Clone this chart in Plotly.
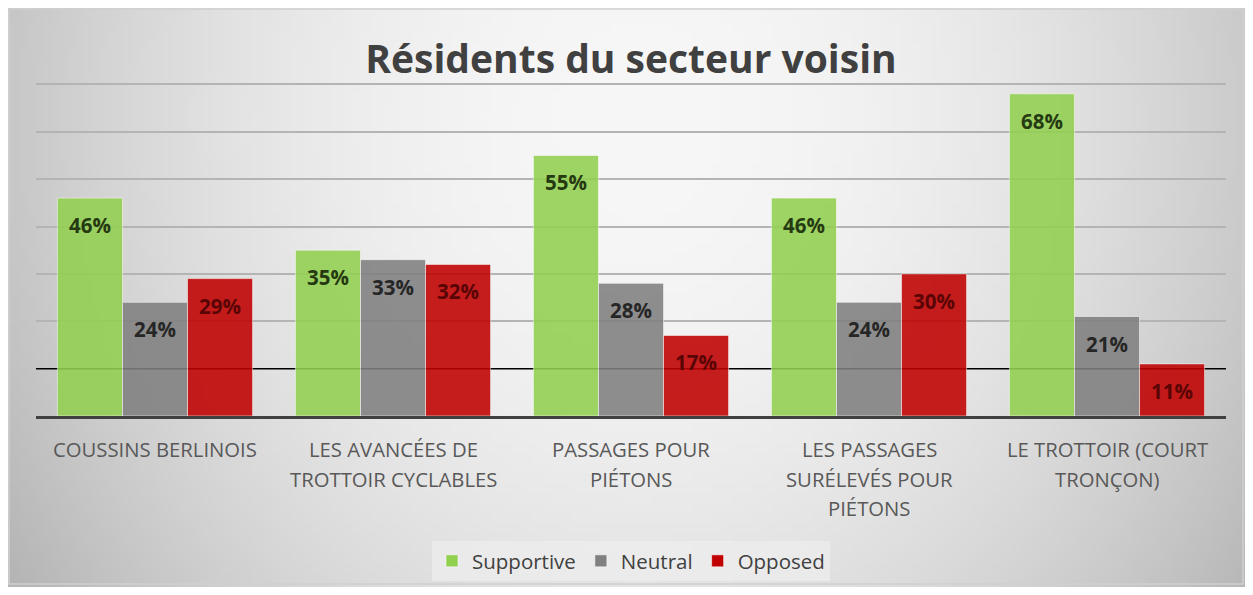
import base64, struct, zlib
import plotly.graph_objects as go

categories = ["COUSSINS BERLINOIS", "LES AVANCÉES DE TROTTOIR CYCLABLES",
              "PASSAGES POUR PIÉTONS", "LES PASSAGES SURÉLEVÉS POUR PIÉTONS",
              "LE TROTTOIR (COURT TRONÇON)"]
category_lines = [["COUSSINS BERLINOIS"],
                  ["LES AVANCÉES DE", "TROTTOIR CYCLABLES"],
                  ["PASSAGES POUR", "PIÉTONS"],
                  ["LES PASSAGES", "SURÉLEVÉS POUR", "PIÉTONS"],
                  ["LE TROTTOIR (COURT", "TRONÇON)"]]
series_names = ["Supportive", "Neutral", "Opposed"]
supportive = [46, 35, 55, 46, 68]
neutral = [24, 33, 28, 24, 21]
opposed = [29, 32, 17, 30, 11]
series_values = [supportive, neutral, opposed]
bar_colors = ["#92D050", "#808080", "#C00000"]
label_colors = ["#263a12", "#262626", "#5a0505"]
y_ticks = [0, 10, 20, 30, 40, 50, 60, 70, 80]
reference_line = 10  # drawn in black instead of a grey gridline

# page body has an 8px margin: figure occupies (8,8)-(1245,587)
W, H = 1237, 579
ML, MR, MT, MB = 28, 19, 29, 171
plot_w = W - ML - MR
plot_h = H - MT - MB
BARGAP = 0.18


def gradient_png(w, h):
    rows = []
    for j in range(h):
        py = 8 + (j + 0.5) / h * H
        row = bytearray([0])
        for i in range(w):
            px = 8 + (i + 0.5) / w * W
            dx = (px - 640) / 620.0
            dy = (py - 120) / 720.0
            d2 = dx * dx + dy * dy
            v = int(max(0, min(255, 247 - 46 * d2)))
            row += bytes([v, v, v])
        rows.append(bytes(row))
    raw = b"".join(rows)

    def chunk(t, data):
        c = struct.pack(">I", len(data)) + t + data
        return c + struct.pack(">I", zlib.crc32(t + data) & 0xffffffff)

    png = b"\x89PNG\r\n\x1a\n"
    png += chunk(b"IHDR", struct.pack(">IIBBBBB", w, h, 8, 2, 0, 0, 0))
    png += chunk(b"IDAT", zlib.compress(raw, 9))
    png += chunk(b"IEND", b"")
    return "data:image/png;base64," + base64.b64encode(png).decode()


fig = go.Figure()
for name, vals, col in zip(series_names, series_values, bar_colors):
    fig.add_trace(go.Bar(
        x=categories, y=vals, name=name,
        marker=dict(color=col, opacity=0.88,
                    line=dict(color="rgba(255,255,255,0.55)", width=1)),
        hoverinfo="x+y+name",
    ))

# data labels
cat_px = plot_w / len(categories)
bar_px = cat_px * (1 - BARGAP) / len(series_names)
annotations = []
for si, (vals, lc) in enumerate(zip(series_values, label_colors)):
    for cat, v in zip(categories, vals):
        annotations.append(dict(
            x=cat, y=v, xref="x", yref="y", text=f"<b>{v}%</b>",
            showarrow=False, xshift=(si - 1) * bar_px, yshift=-27,
            yanchor="middle", font=dict(family="Open Sans", size=20.5, color=lc)))

# category labels (multi-line)
for cat, lines in zip(categories, category_lines):
    for li, line in enumerate(lines):
        annotations.append(dict(
            x=cat, y=0, xref="x", yref="paper", text=line, showarrow=False,
            yanchor="middle", yshift=-(33 + li * 29.5),
            font=dict(family="Open Sans", size=20.3, color="#595959")))

grid_ticks = [t for t in y_ticks if t != reference_line]

fig.update_layout(
    width=W, height=H,
    margin=dict(l=ML, r=MR, t=MT, b=MB),
    paper_bgcolor="white", plot_bgcolor="rgba(0,0,0,0)",
    barmode="group", bargap=BARGAP, bargroupgap=0,
    title=dict(text="<b>Résidents du secteur voisin</b>", x=0.5, xanchor="center",
               xref="paper", y=1 - 51 / H, yanchor="middle", yref="container",
               font=dict(family="Open Sans", size=39, color="#404040")),
    xaxis=dict(showticklabels=False, showgrid=False, showline=True,
               linecolor="#404040", linewidth=3, ticks=""),
    yaxis=dict(range=[0, 80], tickvals=grid_ticks, showticklabels=False,
               showgrid=True, gridcolor="#b4b4b4", gridwidth=1.5,
               zeroline=False, ticks=""),
    legend=dict(orientation="h", x=0.5, xanchor="center", xref="paper",
                y=1 - 553 / H, yanchor="middle", yref="container",
                bgcolor="rgba(238,238,238,0.7)", borderwidth=0,
                font=dict(family="Open Sans", size=20.5, color="#404040"),
                itemclick=False),
    annotations=annotations,
    showlegend=True,
)

# background gradient + border covering the whole figure
fig.add_layout_image(dict(source=gradient_png(124, 58), xref="paper", yref="paper",
                          x=-ML / plot_w, y=1 + MT / plot_h,
                          sizex=W / plot_w, sizey=H / plot_h,
                          xanchor="left", yanchor="top", sizing="stretch",
                          layer="below"))
fig.add_shape(type="rect", xref="paper", yref="paper",
              x0=-(ML - 1) / plot_w, x1=1 + (MR - 2) / plot_w,
              y0=-(MB - 3) / plot_h, y1=1 + (MT - 1) / plot_h,
              line=dict(color="#d0d0d0", width=1.5), fillcolor="rgba(0,0,0,0)",
              layer="below")

# black 10% line (below the translucent bars)
fig.add_shape(type="line", xref="paper", yref="y", x0=0, x1=1,
              y0=reference_line, y1=reference_line,
              line=dict(color="black", width=1.5), layer="below")

fig.write_html("out.html")
